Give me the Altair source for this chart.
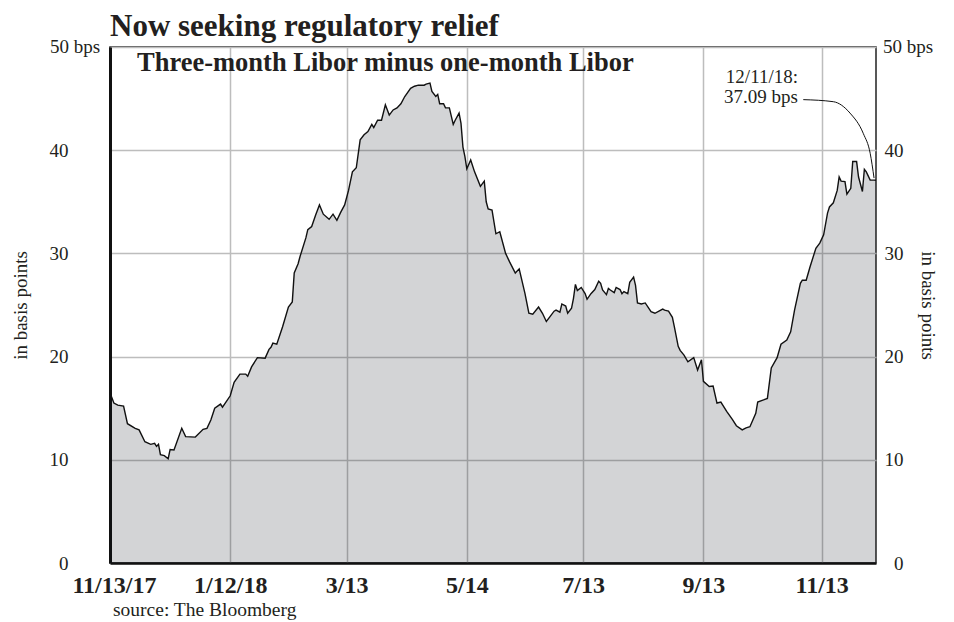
import altair as alt
import pandas as pd

# ---- data ----
dates = [
    "2017-11-11", "2017-11-13", "2017-11-15", "2017-11-18", "2017-11-20", "2017-11-24", "2017-11-26",
    "2017-11-29", "2017-12-02", "2017-12-04", "2017-12-05", "2017-12-06", "2017-12-07", "2017-12-09",
    "2017-12-11", "2017-12-12", "2017-12-14", "2017-12-18", "2017-12-20", "2017-12-25", "2017-12-29",
    "2017-12-31", "2018-01-02", "2018-01-04", "2018-01-07", "2018-01-08", "2018-01-12", "2018-01-14",
    "2018-01-17", "2018-01-20", "2018-01-21", "2018-01-23", "2018-01-26", "2018-01-30", "2018-02-01",
    "2018-02-02", "2018-02-03", "2018-02-05", "2018-02-08", "2018-02-11", "2018-02-13", "2018-02-14",
    "2018-02-16", "2018-02-17", "2018-02-20", "2018-02-21", "2018-02-23", "2018-02-25", "2018-02-27",
    "2018-03-01", "2018-03-04", "2018-03-06", "2018-03-08", "2018-03-10", "2018-03-12", "2018-03-14",
    "2018-03-16", "2018-03-18", "2018-03-20", "2018-03-22", "2018-03-24", "2018-03-26", "2018-03-27",
    "2018-03-29", "2018-03-31", "2018-04-02", "2018-04-04", "2018-04-06", "2018-04-08", "2018-04-10",
    "2018-04-12", "2018-04-15", "2018-04-17", "2018-04-19", "2018-04-22", "2018-04-23", "2018-04-25",
    "2018-04-26", "2018-04-28", "2018-04-29", "2018-04-30", "2018-05-02", "2018-05-03", "2018-05-05",
    "2018-05-07", "2018-05-08", "2018-05-10", "2018-05-11", "2018-05-12", "2018-05-13", "2018-05-14",
    "2018-05-16", "2018-05-18", "2018-05-21", "2018-05-23", "2018-05-24", "2018-05-25", "2018-05-27",
    "2018-05-29", "2018-05-31", "2018-06-03", "2018-06-05", "2018-06-08", "2018-06-10", "2018-06-11",
    "2018-06-13", "2018-06-15", "2018-06-17", "2018-06-20", "2018-06-22", "2018-06-24", "2018-06-26",
    "2018-06-28", "2018-06-29", "2018-07-01", "2018-07-02", "2018-07-04", "2018-07-05", "2018-07-07",
    "2018-07-08", "2018-07-09", "2018-07-10", "2018-07-12", "2018-07-14", "2018-07-15", "2018-07-17",
    "2018-07-19", "2018-07-21", "2018-07-22", "2018-07-23", "2018-07-25", "2018-07-26", "2018-07-27",
    "2018-07-29", "2018-07-30", "2018-08-01", "2018-08-02", "2018-08-03", "2018-08-05", "2018-08-06",
    "2018-08-08", "2018-08-09", "2018-08-10", "2018-08-12", "2018-08-14", "2018-08-17", "2018-08-19",
    "2018-08-23", "2018-08-24", "2018-08-26", "2018-08-28", "2018-08-29", "2018-08-31", "2018-09-01",
    "2018-09-03", "2018-09-05", "2018-09-08", "2018-09-10", "2018-09-12", "2018-09-13", "2018-09-16",
    "2018-09-18", "2018-09-20", "2018-09-22", "2018-09-25", "2018-09-28", "2018-09-30", "2018-10-03",
    "2018-10-05", "2018-10-07", "2018-10-10", "2018-10-11", "2018-10-14", "2018-10-16", "2018-10-18",
    "2018-10-21", "2018-10-23", "2018-10-26", "2018-10-28", "2018-10-30", "2018-11-02", "2018-11-03",
    "2018-11-05", "2018-11-07", "2018-11-10", "2018-11-12", "2018-11-14", "2018-11-16", "2018-11-17",
    "2018-11-19", "2018-11-21", "2018-11-22", "2018-11-23", "2018-11-25", "2018-11-26", "2018-11-28",
    "2018-11-29", "2018-12-01", "2018-12-02", "2018-12-04", "2018-12-05", "2018-12-06", "2018-12-08",
    "2018-12-10", "2018-12-11",
]
spread_bps = [
    16.5, 15.5, 15.3, 15.2, 13.5, 13.05, 12.9,
    11.75, 11.5, 11.6, 11.3, 11.5, 10.5, 10.4,
    10.1, 11.0, 10.95, 13.05, 12.25, 12.2, 12.95,
    13.05, 13.85, 15.0, 15.4, 15.1, 16.2, 17.5,
    18.3, 18.3, 18.1, 19.0, 19.9, 19.85, 20.7,
    20.9, 21.3, 21.2, 22.9, 24.8, 25.3, 28.1,
    29.0, 29.7, 31.5, 32.3, 32.6, 33.7, 34.7,
    33.8, 33.3, 33.8, 33.2, 34.0, 34.7, 36.1,
    37.9, 38.3, 41.0, 41.5, 41.8, 42.5, 42.2,
    42.9, 42.9, 44.4, 43.4, 43.9, 44.1, 44.5,
    45.2, 46.0, 46.2, 46.3, 46.3, 46.4, 46.5,
    45.7, 45.2, 45.4, 44.5, 44.5, 44.1, 44.1,
    42.5, 42.9, 43.6, 42.6, 40.3, 39.4, 38.2,
    39.05, 37.9, 36.5, 37.0, 35.0, 34.3, 34.2,
    31.9, 32.1, 30.0, 29.2, 28.1, 28.5, 27.7,
    26.1, 24.2, 24.1, 24.8, 24.2, 23.4, 23.9,
    24.4, 24.5, 24.3, 25.1, 24.9, 24.2, 24.7,
    25.65, 27.0, 26.4, 26.7, 26.1, 25.55, 26.1,
    26.5, 27.3, 27.1, 26.45, 26.0, 26.6, 26.45,
    26.2, 26.7, 26.5, 26.1, 26.3, 26.1, 27.2,
    27.7, 26.9, 25.2, 25.1, 25.2, 24.35, 24.2,
    24.6, 24.5, 24.4, 23.8, 22.9, 21.0, 20.6,
    20.15, 19.5, 19.9, 18.7, 19.7, 17.6, 17.1,
    17.15, 15.5, 15.6, 14.7, 13.9, 13.3, 12.9,
    13.1, 13.2, 14.5, 15.6, 15.8, 15.95, 18.9,
    19.9, 21.2, 21.6, 22.4, 24.5, 27.1, 27.4,
    27.4, 28.7, 30.5, 31.0, 31.8, 33.9, 34.5,
    34.9, 36.1, 37.4, 37.0, 36.95, 35.75, 36.3,
    38.9, 38.9, 37.4, 36.0, 38.15, 37.9, 37.1,
    37.1, 37.09,
]

x_domain = ["2017-11-11", "2018-12-11"]
tick_dates = ["2017-11-13", "2018-01-12", "2018-03-13", "2018-05-14",
              "2018-07-13", "2018-09-13", "2018-11-13"]
tick_labels = ["11/13/17", "1/12/18", "3/13", "5/14", "7/13", "9/13", "11/13"]
y_ticks = [0, 10, 20, 30, 40, 50]

title_text = "Now seeking regulatory relief"
subtitle_text = "Three-month Libor minus one-month Libor"
axis_title = "in basis points"
top_label = "50 bps"
source_text = "source: The Bloomberg"
callout_lines = ["12/11/18:", "37.09 bps"]
callout_dates = ["2018-11-03T12:00", "2018-11-19T00:00", "2018-11-27T14:00",
                 "2018-12-04T12:00", "2018-12-08T00:00", "2018-12-10T00:00"]
callout_values = [44.9, 44.7, 43.6, 41.6, 39.7, 37.3]

# ---- styling ----
FONT = "Liberation Serif"
INK = "#231f20"
GRID = "#bdbdbd"


def dt(s):
    y, m, d = (int(p) for p in s.split("-"))
    return alt.DateTime(year=y, month=m, date=d)


label_expr = " : ".join(
    f"timeFormat(datum.value, '%Y-%m-%d') == '{d}' ? '{lab}'"
    for d, lab in zip(tick_dates, tick_labels)
) + " : ''"
# the first tick sits on the left frame: no separate grid line there
first_tick_test = f"timeFormat(datum.value, '%Y-%m-%d') == '{tick_dates[0]}'"

df = pd.DataFrame({"date": pd.to_datetime(dates), "bps": spread_bps})

x_scale = alt.Scale(domain=[dt(x_domain[0]), dt(x_domain[1])])
y_scale = alt.Scale(domain=[0, 50], nice=False)

x_axis = alt.Axis(
    values=[dt(d) for d in tick_dates], labelExpr=label_expr, title=None,
    labelFont=FONT, labelFontSize=24, labelFontWeight="bold", labelColor=INK,
    labelPadding=10, labelOverlap=False, ticks=False, tickSize=0,
    domain=True, domainColor="#111", domainWidth=2.5,
    grid=True, gridColor=GRID, gridWidth=1.5,
    gridOpacity={"condition": {"test": first_tick_test, "value": 0}, "value": 1},
)
x_enc = alt.X("date:T", scale=x_scale, axis=x_axis)

y_label_expr = "datum.value == 50 ? '' : datum.label"

left_axis = alt.Axis(
    orient="left", values=y_ticks, labelExpr=y_label_expr,
    labelFont=FONT, labelFontSize=19, labelColor=INK, labelAlign="right",
    labelPadding=42, ticks=False, tickSize=0,
    domain=True, domainColor="#111", domainWidth=3,
    grid=True, gridColor=GRID, gridWidth=1.5,
    title=axis_title, titleFont=FONT, titleFontSize=19, titleFontWeight="normal",
    titleColor=INK, titleAngle=270, titleX=-90, titleY=258,
    titleAlign="center", titleBaseline="middle",
)

right_axis = alt.Axis(
    orient="right", values=y_ticks, labelExpr=y_label_expr,
    labelFont=FONT, labelFontSize=19, labelColor=INK, labelAlign="right",
    labelPadding=27, ticks=False, tickSize=0, domain=False, grid=False,
    title=axis_title, titleFont=FONT, titleFontSize=19, titleFontWeight="normal",
    titleColor=INK, titleAngle=90, titleX=51, titleY=258,
    titleAlign="center", titleBaseline="middle",
)

area = alt.Chart(df).mark_area(fill="#0a0f1e", fillOpacity=0.18).encode(
    x=x_enc,
    y=alt.Y("bps:Q", scale=y_scale, axis=left_axis),
)

line = alt.Chart(df).mark_line(color="#111", strokeWidth=1.4).encode(
    x=x_enc,
    y=alt.Y("bps:Q", scale=y_scale, axis=right_axis),
)

callout_df = pd.DataFrame({"date": pd.to_datetime(callout_dates), "bps": callout_values})
leader = alt.Chart(callout_df).mark_line(
    color="#111", strokeWidth=1, interpolate="monotone"
).encode(
    x=x_enc,
    y=alt.Y("bps:Q", scale=y_scale, axis=None),
)


def text_layer(text, x, y, size, weight="normal", align="left", baseline="alphabetic"):
    return alt.Chart(pd.DataFrame({"t": [text]})).mark_text(
        font=FONT, fontSize=size, fontWeight=weight, color=INK,
        align=align, baseline=baseline, lineBreak="\n", lineHeight=20,
    ).encode(text="t:N", x=alt.value(x), y=alt.value(y))


title = text_layer(title_text, 0, -11, 31, "bold")
subtitle = text_layer(subtitle_text, 27, 24, 26.5, "bold")
left_top = text_layer(top_label, -60, 0, 19, baseline="middle")
right_top = text_layer(top_label, 773, 0, 19, baseline="middle")
source = text_layer(source_text, 3, 569, 19.5)
callout = text_layer("\n".join(callout_lines), 688, 36, 19, align="right")

chart = (
    alt.layer(area, line, leader, title, subtitle, left_top, right_top, source, callout)
    .resolve_axis(y="independent")
    .properties(
        width=766, height=516,
        padding={"left": 102, "top": 39, "right": 70, "bottom": 59},
        autosize=alt.AutoSizeParams(type="none"),
        background="white",
    )
    .configure_view(stroke="#222", strokeWidth=1.5)
)

chart.save("out.html", embed_options={"renderer": "svg", "actions": False})
